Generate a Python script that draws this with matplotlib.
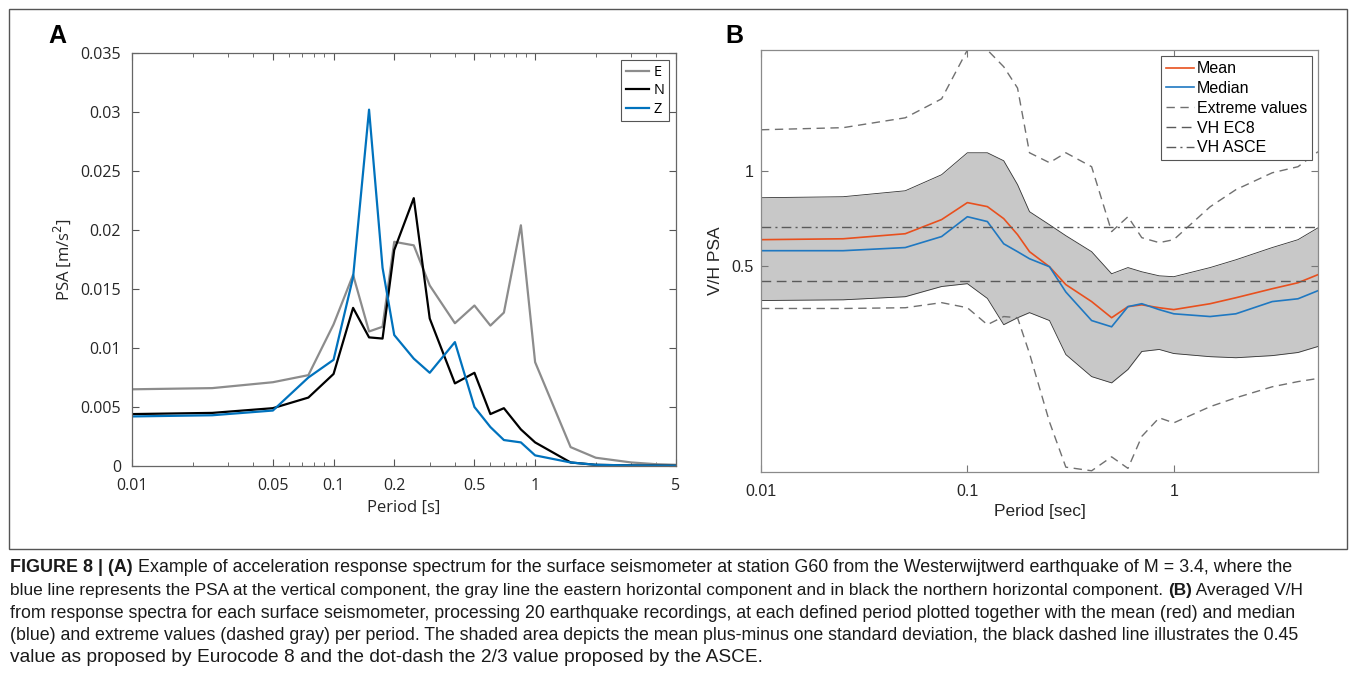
import numpy as np
import matplotlib
matplotlib.use("Agg")
import matplotlib.pyplot as plt
from matplotlib import font_manager
from matplotlib.patches import Rectangle
from matplotlib.ticker import FixedLocator, NullFormatter, NullLocator, LogLocator

# ---- Panel A: response spectrum of one recording (station G60) ----
period_a = [0.01, 0.025, 0.05, 0.075, 0.1, 0.125, 0.15, 0.175, 0.2, 0.25, 0.3,
            0.4, 0.5, 0.6, 0.7, 0.85, 1.0, 1.5, 2.0, 3.0, 4.0, 5.0]
psa_e = [0.0065, 0.0066, 0.0071, 0.0077, 0.0120, 0.0162, 0.0114, 0.0118, 0.0190,
         0.0187, 0.0153, 0.0121, 0.0136, 0.0119, 0.0130, 0.0204, 0.0088, 0.0016,
         0.0007, 0.0003, 0.00015, 0.0001]
psa_n = [0.0044, 0.0045, 0.0049, 0.0058, 0.0078, 0.0134, 0.0109, 0.0108, 0.0183,
         0.0227, 0.0125, 0.0070, 0.0079, 0.0044, 0.0049, 0.0031, 0.0020, 0.0003,
         0.0001, 0.00005, 0.00003, 0.00002]
psa_z = [0.0042, 0.0043, 0.0047, 0.0075, 0.0090, 0.0160, 0.0302, 0.0168, 0.0111,
         0.0091, 0.0079, 0.0105, 0.0050, 0.0033, 0.0022, 0.0020, 0.0009, 0.0003,
         0.0001, 0.00005, 0.00003, 0.00002]

# ---- Panel B: averaged V/H ratios ----
period_b = period_a
vh_mean = [0.607, 0.611, 0.634, 0.703, 0.796, 0.773, 0.708, 0.630, 0.556, 0.498,
           0.437, 0.386, 0.343, 0.372, 0.377, 0.369, 0.364, 0.380, 0.397, 0.424,
           0.443, 0.470]
vh_median = [0.560, 0.560, 0.573, 0.621, 0.718, 0.693, 0.589, 0.556, 0.528, 0.498,
             0.414, 0.336, 0.321, 0.372, 0.380, 0.364, 0.353, 0.346, 0.353, 0.386,
             0.394, 0.418]
vh_std_hi = [0.825, 0.831, 0.868, 0.976, 1.146, 1.146, 1.081, 0.908, 0.745, 0.677,
             0.625, 0.556, 0.473, 0.495, 0.480, 0.466, 0.463, 0.495, 0.524, 0.573,
             0.607, 0.662]
vh_std_lo = [0.389, 0.391, 0.400, 0.431, 0.440, 0.395, 0.326, 0.343, 0.356, 0.336,
             0.262, 0.223, 0.213, 0.235, 0.268, 0.272, 0.264, 0.258, 0.256, 0.260,
             0.266, 0.278]
vh_max = [1.356, 1.377, 1.480, 1.700, 2.430, 2.430, 2.150, 1.840, 1.146, 1.066,
          1.146, 1.035, 0.644, 0.718, 0.616, 0.594, 0.607, 0.772, 0.875, 0.990,
          1.035, 1.155]
vh_min = [0.367, 0.367, 0.369, 0.383, 0.369, 0.326, 0.346, 0.343, 0.264, 0.160,
          0.115, 0.112, 0.124, 0.114, 0.144, 0.165, 0.159, 0.179, 0.191, 0.207,
          0.215, 0.220]
vh_ec8 = 0.45
vh_asce = 2 / 3

caption = [
    [("FIGURE 8 | (A)", "bold"),
     (" Example of acceleration response spectrum for the surface seismometer at station G60 "
      "from the Westerwijtwerd earthquake of M = 3.4, where the", "normal")],
    [("blue line represents the PSA at the vertical component, the gray line the eastern "
      "horizontal component and in black the northern horizontal component. ", "normal"),
     ("(B)", "bold"), (" Averaged V/H", "normal")],
    [("from response spectra for each surface seismometer, processing 20 earthquake recordings, "
      "at each defined period plotted together with the mean (red) and median", "normal")],
    [("(blue) and extreme values (dashed gray) per period. The shaded area depicts the mean "
      "plus-minus one standard deviation, the black dashed line illustrates the 0.45", "normal")],
    [("value as proposed by Eurocode 8 and the dot-dash the 2/3 value proposed by the ASCE.",
      "normal")],
]


def has_font(name):
    try:
        font_manager.findfont(font_manager.FontProperties(family=name),
                              fallback_to_default=False)
        return True
    except Exception:
        return False


sans = "Liberation Sans"
narrow = "Liberation Sans Narrow" if has_font("Liberation Sans Narrow") else None
font_a = "Open Sans"

W, H = 1355, 685
fig = plt.figure(figsize=(W / 100, H / 100), dpi=100)


def px_axes(left, top, right, bottom):
    return fig.add_axes([left / W, 1 - bottom / H, (right - left) / W, (bottom - top) / H])


# outer frame around both panels
bg = fig.add_axes([0, 0, 1, 1])
bg.set_xlim(0, W)
bg.set_ylim(H, 0)
bg.axis("off")
bg.add_patch(Rectangle((9, 9), 1338, 540, fill=False, ec="#555555", lw=1.0))

# ---------------- Panel A ----------------
axa = px_axes(132, 53, 676, 466)
axa.plot(period_a, psa_e, color="#8c8c8c", lw=1.6, label="E")
axa.plot(period_a, psa_n, color="black", lw=1.6, label="N")
axa.plot(period_a, psa_z, color="#0072BD", lw=1.6, label="Z")
axa.set_xscale("log")
axa.set_xlim(0.01, 5)
axa.set_ylim(0, 0.035)
axa.xaxis.set_major_locator(FixedLocator([0.01, 0.05, 0.1, 0.2, 0.5, 1, 5]))
axa.xaxis.set_minor_locator(LogLocator(base=10, subs=np.arange(2, 10)))
axa.xaxis.set_minor_formatter(NullFormatter())
axa.set_xticklabels(["0.01", "0.05", "0.1", "0.2", "0.5", "1", "5"])
axa.set_yticks(np.arange(0, 0.0351, 0.005))
axa.set_yticklabels(["0", "0.005", "0.01", "0.015", "0.02", "0.025", "0.03", "0.035"])
axa.tick_params(which="both", direction="in", top=True, right=True, color="#555555",
                labelsize=11.5)
axa.tick_params(which="major", length=5)
axa.tick_params(which="minor", length=3)
axa.tick_params(axis="x", pad=9)
axa.tick_params(axis="y", pad=8)
for lab in axa.get_xticklabels() + axa.get_yticklabels():
    lab.set_family(font_a)
    lab.set_color("#262626")
for s in axa.spines.values():
    s.set_color("#666666")
    s.set_linewidth(0.9)
axa.set_xlabel("Period [s]", family=font_a, fontsize=12, color="#262626", labelpad=4)
axa.set_ylabel("PSA [m/s$^2$]", family=font_a, fontsize=12, color="#262626", labelpad=5)
lega = axa.legend(loc="upper right", prop={"family": font_a, "size": 10.5},
                  handlelength=1.6, handletextpad=0.3, borderpad=0.3, labelspacing=0.25,
                  fancybox=False, framealpha=1, borderaxespad=0.5)
lega.get_frame().set_edgecolor("#555555")
lega.get_frame().set_linewidth(0.8)

# ---------------- Panel B ----------------
axb = px_axes(761, 50, 1318, 472)
axb.fill_between(period_b, vh_std_lo, vh_std_hi, color="#c8c8c8", lw=0)
axb.plot(period_b, vh_std_hi, color="#333333", lw=0.6)
axb.plot(period_b, vh_std_lo, color="#333333", lw=0.6)
axb.plot(period_b, vh_mean, color="#E8501E", lw=1.2, label="Mean")
axb.plot(period_b, vh_median, color="#1f78c1", lw=1.2, label="Median")
axb.plot(period_b, vh_max, color="#707070", lw=1.0, dashes=(6, 4), label="Extreme values")
axb.plot(period_b, vh_min, color="#707070", lw=1.0, dashes=(6, 4))
axb.axhline(vh_ec8, color="#5a5a5a", lw=1.0, dashes=(7, 4), label="VH EC8")
axb.axhline(vh_asce, color="#5a5a5a", lw=1.0, dashes=(7, 3, 1.5, 3), label="VH ASCE")
axb.set_xscale("log")
axb.set_yscale("log")
axb.set_xlim(0.01, 5)
axb.set_ylim(0.111, 2.43)
axb.xaxis.set_major_locator(FixedLocator([0.01, 0.1, 1]))
axb.xaxis.set_minor_locator(NullLocator())
axb.set_xticklabels(["0.01", "0.1", "1"])
axb.yaxis.set_major_locator(FixedLocator([0.5, 1]))
axb.yaxis.set_minor_locator(NullLocator())
axb.set_yticklabels(["0.5", "1"])
axb.tick_params(which="both", direction="in", top=True, right=True, color="#777777",
                labelsize=11.5, length=5)
axb.tick_params(axis="x", pad=9)
axb.tick_params(axis="y", pad=5)
for lab in axb.get_xticklabels() + axb.get_yticklabels():
    lab.set_family(sans)
    lab.set_color("#262626")
for s in axb.spines.values():
    s.set_color("#8a8a8a")
    s.set_linewidth(0.9)
axb.set_xlabel("Period [sec]", family=sans, fontsize=12.5, color="#262626", labelpad=3)
axb.set_ylabel("V/H PSA", family=sans, fontsize=12.5, color="#262626", labelpad=6)
legb = axb.legend(loc="upper right", prop={"family": sans, "size": 11.5},
                  handlelength=1.75, handletextpad=0.15, borderpad=0.3, labelspacing=0.3,
                  fancybox=False, framealpha=1, borderaxespad=0.4)
legb.get_frame().set_edgecolor("#555555")
legb.get_frame().set_linewidth(0.8)

# panel letters
fig.text(48 / W, 1 - 36 / H, "A", family=sans, weight="bold", fontsize=18, va="center")
fig.text(725 / W, 1 - 36 / H, "B", family=sans, weight="bold", fontsize=18, va="center")

# caption, one text object per run so the bold parts can sit inline;
# long lines use the narrow face (or a smaller size) to stay inside the frame
renderer = fig.canvas.get_renderer()
line_y = [568, 590, 613, 635, 658]
max_w = 1282
for segs, y in zip(caption, line_y):
    full = "".join(s for s, _ in segs)
    fam, size = sans, 13.8
    probe = bg.text(10, y, full, family=fam, fontsize=size, va="center")
    w = probe.get_window_extent(renderer).width
    probe.remove()
    if w > max_w and narrow:
        fam = narrow
        probe = bg.text(10, y, full, family=fam, fontsize=size, va="center")
        w = probe.get_window_extent(renderer).width
        probe.remove()
    if w > max_w:
        size = size * max_w / w
    x = 10
    for s, weight in segs:
        t = bg.text(x, y, s, family=fam, weight=weight, fontsize=size, va="center",
                    color="#1a1a1a")
        x += t.get_window_extent(renderer).width

fig.savefig("out.png", dpi=100)
